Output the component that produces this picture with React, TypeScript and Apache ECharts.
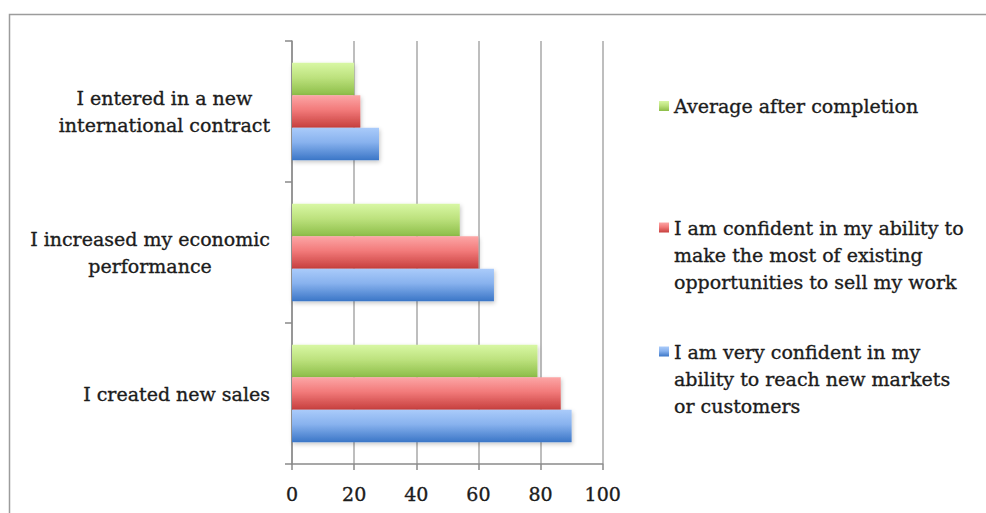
import React, { useEffect, useRef } from "react";
import * as echarts from "echarts";

// Categories listed bottom-to-top (category axis grows upward)
const categories = [
  "I created new sales",
  "I increased my economic\nperformance",
  "I entered in a new\ninternational contract",
];

const seriesNames = [
  "I am very confident in my\nability to reach new markets\nor customers",
  "I am confident in my ability to\nmake the most of existing\nopportunities to sell my work",
  "Average after completion",
];

const veryConfident = [90, 65, 28];
const confident = [86.5, 60, 22];
const averageAfter = [79, 54, 20];

const xMin = 0;
const xMax = 100;
const xStep = 20;

const FONT = "'DejaVu Serif', serif";
const TEXT = "#1c1c1c";

// Slight outline thickens the serif glyphs a little
const textInk = {
  fontFamily: FONT,
  fontSize: 19,
  color: TEXT,
  textBorderColor: TEXT,
  textBorderWidth: 0.35,
};

const grad = (top: string, mid: string, bottom: string) => ({
  type: "linear",
  x: 0,
  y: 0,
  x2: 0,
  y2: 1,
  colorStops: [
    { offset: 0, color: top },
    { offset: 0.45, color: mid },
    { offset: 1, color: bottom },
  ],
});

const blueFill = grad("#aacbfa", "#88b2ee", "#3b76c7");
const redFill = grad("#fca6a6", "#f27a7a", "#c63f3d");
const greenFill = grad("#d8f7a4", "#bde27e", "#8cbd48");

const barStyle = (fill: any) => ({
  color: fill,
  shadowBlur: 4,
  shadowOffsetX: 1,
  shadowOffsetY: 2,
  shadowColor: "rgba(0,0,0,0.22)",
});

// Legend icons sit beside the first line of each entry: pad multi-line names
// with blank lines above so the block's middle falls on the first line.
const padFirstLine = (name: string) => {
  const n = name.split("\n").length;
  return "\n".repeat(n - 1) + name;
};

export default function App() {
  const ref = useRef<HTMLDivElement>(null);

  useEffect(() => {
    if (!ref.current) return;
    const chart = echarts.init(ref.current, undefined, { renderer: "svg" });

    const legendBase = {
      orient: "vertical",
      left: 654,
      itemWidth: 10,
      itemHeight: 10,
      icon: "rect",
      selectedMode: false,
      formatter: padFirstLine,
      textStyle: { ...textInk, lineHeight: 27 },
    };

    chart.setOption({
      animation: false,
      backgroundColor: "#ffffff",
      graphic: [
        {
          type: "rect",
          silent: true,
          z: -10,
          shape: { x: 9.5, y: 14.5, width: 1000, height: 600 },
          style: { fill: "none", stroke: "#9c9c9c", lineWidth: 1.5 },
        },
      ],
      grid: { left: 292, top: 41, width: 310.7, height: 423, containLabel: false },
      legend: [
        { ...legendBase, top: 87.5, data: [seriesNames[2]] },
        { ...legendBase, top: 155, data: [seriesNames[1]] },
        { ...legendBase, top: 279, data: [seriesNames[0]] },
      ],
      xAxis: {
        type: "value",
        min: xMin,
        max: xMax,
        interval: xStep,
        axisLine: { show: true, lineStyle: { color: "#8a8a8a", width: 1.5 } },
        axisTick: { show: true, length: 6, lineStyle: { color: "#8a8a8a", width: 1.5 } },
        splitLine: { show: true, lineStyle: { color: "#a8a8a8", width: 1.5 } },
        axisLabel: { margin: 20, ...textInk },
      },
      yAxis: {
        type: "category",
        data: categories,
        axisLine: { show: true, lineStyle: { color: "#8a8a8a", width: 1.5 } },
        axisTick: { show: true, length: 7, lineStyle: { color: "#8a8a8a", width: 1.5 } },
        splitLine: { show: false },
        axisLabel: {
          margin: 22,
          formatter: (v: string) =>
            v
              .split("\n")
              .map((l) => `{c|${l}}`)
              .join("\n"),
          rich: {
            c: { align: "center", lineHeight: 27, ...textInk },
          },
        },
      },
      // Series order sets the stacking within each band: first is topmost
      series: [
        {
          name: seriesNames[2],
          type: "bar",
          data: averageAfter,
          barGap: "0%",
          barCategoryGap: "31%",
          itemStyle: barStyle(greenFill),
        },
        {
          name: seriesNames[1],
          type: "bar",
          data: confident,
          barGap: "0%",
          barCategoryGap: "31%",
          itemStyle: barStyle(redFill),
        },
        {
          name: seriesNames[0],
          type: "bar",
          data: veryConfident,
          barGap: "0%",
          barCategoryGap: "31%",
          itemStyle: barStyle(blueFill),
        },
      ],
    });

    return () => chart.dispose();
  }, []);

  return (
    <div
      ref={ref}
      style={{ position: "absolute", left: 0, top: 0, width: 986, height: 513, background: "#fff" }}
    />
  );
}
